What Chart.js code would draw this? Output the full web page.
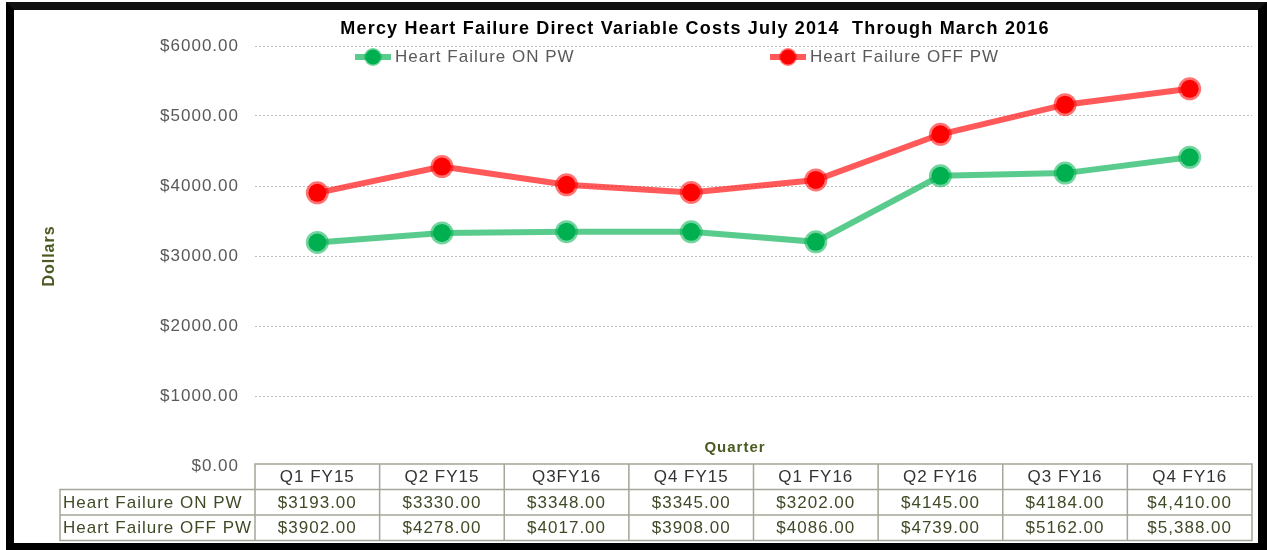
<!DOCTYPE html>
<html>
<head>
<meta charset="utf-8">
<script src="https://cdn.jsdelivr.net/npm/chart.js@4/dist/chart.umd.min.js"></script>
<style>
  body { margin: 0; background: #fff; }
  #frame { position: absolute; left: 6px; top: 2px; width: 1261px; height: 548px; box-sizing: border-box;
           border-style: solid; border-color: #000; border-width: 8px 9px 7px 8px; border-top-color: #111; }
  #cost-chart { position: absolute; left: 0; top: 0; }
</style>
</head>
<body>
<div id="frame"></div>
<canvas id="cost-chart" width="1267" height="550"></canvas>
<script>
const quarters = ["Q1 FY15", "Q2 FY15", "Q3FY16", "Q4 FY15", "Q1 FY16", "Q2 FY16", "Q3 FY16", "Q4 FY16"];
const onPw = [3193, 3330, 3348, 3345, 3202, 4145, 4184, 4410];
const offPw = [3902, 4278, 4017, 3908, 4086, 4739, 5162, 5388];
const onPwText = ["$3193.00", "$3330.00", "$3348.00", "$3345.00", "$3202.00", "$4145.00", "$4184.00", "$4,410.00"];
const offPwText = ["$3902.00", "$4278.00", "$4017.00", "$3908.00", "$4086.00", "$4739.00", "$5162.00", "$5,388.00"];
const seriesNames = ["Heart Failure ON PW", "Heart Failure OFF PW"];
const chartTitle = "Mercy Heart Failure Direct Variable Costs July 2014  Through March 2016";

const FONT = "'Liberation Sans', Arial, sans-serif";

// the old Excel rendering is a little wider than plain Arial
const spacing = {
  id: "spacing",
  beforeDraw(chart) {
    chart.ctx.letterSpacing = "1px";
  },
};

// title, legend, axis titles and the data table under the plot
const extras = {
  id: "extras",
  afterDraw(chart) {
    const ctx = chart.ctx;
    const area = chart.chartArea;
    const x = chart.scales.x;
    ctx.save();
    ctx.textBaseline = "middle";

    ctx.fillStyle = "#000";
    ctx.font = "bold 18px " + FONT;
    ctx.letterSpacing = "1.2px";
    ctx.textAlign = "center";
    ctx.fillText(chartTitle, 695, 29);
    ctx.letterSpacing = "1px";

    // legend
    const legendX = [355, 770];
    chart.data.datasets.forEach((ds, i) => {
      const lx = legendX[i];
      ctx.strokeStyle = ds.borderColor;
      ctx.lineWidth = 6;
      ctx.beginPath();
      ctx.moveTo(lx, 57);
      ctx.lineTo(lx + 36, 57);
      ctx.stroke();
      ctx.beginPath();
      ctx.arc(lx + 18, 57, 7.5, 0, Math.PI * 2);
      ctx.fillStyle = ds.pointBackgroundColor;
      ctx.fill();
      ctx.lineWidth = 3;
      ctx.strokeStyle = ds.pointBorderColor;
      ctx.stroke();
      ctx.fillStyle = "#595959";
      ctx.font = "17px " + FONT;
      ctx.textAlign = "left";
      ctx.fillText(ds.label, lx + 40, 57);
    });

    // axis titles
    ctx.fillStyle = "#4a5a20";
    ctx.font = "bold 15px " + FONT;
    ctx.textAlign = "center";
    ctx.fillText("Quarter", 735, 448);
    ctx.save();
    ctx.translate(50, (area.top + area.bottom) / 2);
    ctx.rotate(-Math.PI / 2);
    ctx.font = "bold 16px " + FONT;
    ctx.fillText("Dollars", 0, 0);
    ctx.restore();

    // data table
    const colW = area.width / quarters.length;
    const top = area.bottom - 2;
    const rowH = 25.5;
    const labelLeft = 60;
    ctx.strokeStyle = "#a3a698";
    ctx.lineWidth = 1.5;
    ctx.beginPath();
    ctx.rect(area.left, top, area.width, rowH);
    ctx.rect(labelLeft, top + rowH, area.right - labelLeft, rowH);
    ctx.rect(labelLeft, top + rowH * 2, area.right - labelLeft, rowH);
    for (let i = 0; i <= quarters.length; i++) {
      ctx.moveTo(area.left + i * colW, top);
      ctx.lineTo(area.left + i * colW, top + rowH * 3);
    }
    ctx.stroke();

    ctx.font = "17px " + FONT;
    ctx.textAlign = "center";
    quarters.forEach((q, i) => {
      const cx = x.getPixelForValue(i);
      ctx.fillStyle = "#333";
      ctx.fillText(q, cx, top + rowH / 2 + 1);
      ctx.fillStyle = "#3f4a26";
      ctx.fillText(onPwText[i], cx, top + rowH * 1.5 + 1);
      ctx.fillText(offPwText[i], cx, top + rowH * 2.5 + 1);
    });
    ctx.textAlign = "left";
    ctx.fillStyle = "#3f4a26";
    ctx.fillText(seriesNames[0], labelLeft + 3, top + rowH * 1.5 + 1);
    ctx.fillText(seriesNames[1], labelLeft + 3, top + rowH * 2.5 + 1);
    ctx.restore();
  },
};

new Chart(document.getElementById("cost-chart"), {
  type: "line",
  data: {
    labels: quarters,
    datasets: [
      {
        label: seriesNames[0],
        data: onPw,
        borderColor: "rgba(0,176,80,0.65)",
        borderWidth: 6,
        pointBackgroundColor: "#00b050",
        pointBorderColor: "rgba(0,176,80,0.55)",
        pointRadius: 9,
        pointBorderWidth: 5,
        tension: 0,
      },
      {
        label: seriesNames[1],
        data: offPw,
        borderColor: "rgba(255,0,0,0.65)",
        borderWidth: 6,
        pointBackgroundColor: "#ff0000",
        pointBorderColor: "rgba(255,0,0,0.55)",
        pointRadius: 9,
        pointBorderWidth: 5,
        tension: 0,
      },
    ],
  },
  options: {
    responsive: false,
    animation: false,
    devicePixelRatio: 1,
    layout: {
      padding: { top: 46, bottom: 84, right: 15, left: 0 },
    },
    plugins: {
      legend: { display: false },
      title: { display: false },
      tooltip: { enabled: false },
    },
    scales: {
      x: {
        display: false,
        offset: true,
      },
      y: {
        min: 0,
        max: 6000,
        afterFit: (scale) => {
          scale.width = 255;
        },
        ticks: {
          stepSize: 1000,
          padding: 16,
          color: "#595959",
          font: { family: FONT, size: 17 },
          callback: (v) => "$" + v.toFixed(2),
        },
        grid: {
          color: (c) => (c.tick.value === 0 ? "rgba(0,0,0,0)" : "#bdbdbd"),
          drawTicks: false,
        },
        border: { display: false, dash: [2, 2] },
      },
    },
  },
  plugins: [spacing, extras],
});
</script>
</body>
</html>
